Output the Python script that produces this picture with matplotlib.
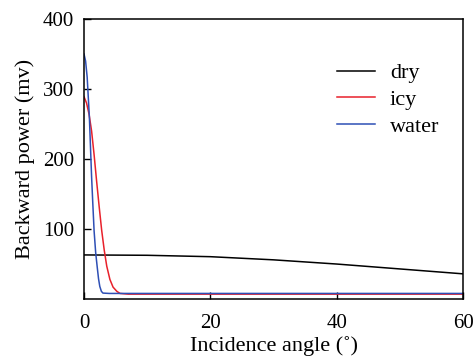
import numpy as np
import matplotlib
matplotlib.use("Agg")
import matplotlib.pyplot as plt

plt.rcParams["font.family"] = ["Liberation Serif", "DejaVu Serif"]

# =========================
# DATA
# =========================
dry_angle = [0, 10, 20, 30, 40, 50, 60]
dry_power = [63, 62.5, 60.5, 56, 50, 43, 36]

icy_angle = [0, 0.4, 0.8, 1.2, 1.6, 2.0, 2.4, 2.8, 3.2, 3.6, 4.1, 4.6, 5.2, 5.7, 7, 60]
icy_power = [289, 280, 264, 240, 206, 168, 132, 98, 70, 47, 28, 17, 11, 8, 7, 7]

water_angle = [0, 0.25, 0.5, 0.85, 1.2, 1.4, 1.6, 1.85, 2.1, 2.3, 2.5, 2.75, 3.0, 4, 60]
water_power = [350, 340, 317, 260, 175, 135, 97, 66, 45, 29, 18, 11, 8.5, 8, 8]

x_ticks = [0, 20, 40, 60]
y_ticks = [100, 200, 300, 400]

# =========================
# PLOT
# =========================
fig = plt.figure(figsize=(4.73, 3.56), dpi=100)
ax = fig.add_axes([0.1776, 0.160, 0.8013, 0.7866])

ax.plot(dry_angle, dry_power, color="black", lw=1.1, label="dry")
ax.plot(icy_angle, icy_power, color="#e8212b", lw=1.1, label="icy")
ax.plot(water_angle, water_power, color="#2e4fb5", lw=1.1, label="water")

ax.set_xlim(0, 60)
ax.set_ylim(0, 400)
ax.set_xticks(x_ticks)
ax.set_yticks(y_ticks)
ax.tick_params(direction="in", length=5, width=1, labelsize=15)
ax.tick_params(axis="x", pad=11)
ax.tick_params(axis="y", pad=7)
for s in ax.spines.values():
    s.set_linewidth(1.1)

ax.set_xlabel("Incidence angle (˚)", fontsize=16, labelpad=2)
ax.set_ylabel("Backward power (mv)", fontsize=16, labelpad=6)

ax.legend(loc="upper right", frameon=False, fontsize=16, handlelength=1.75,
          labelspacing=0.28, handletextpad=0.65, bbox_to_anchor=(0.99, 0.915))

fig.savefig("out.png", dpi=100)
